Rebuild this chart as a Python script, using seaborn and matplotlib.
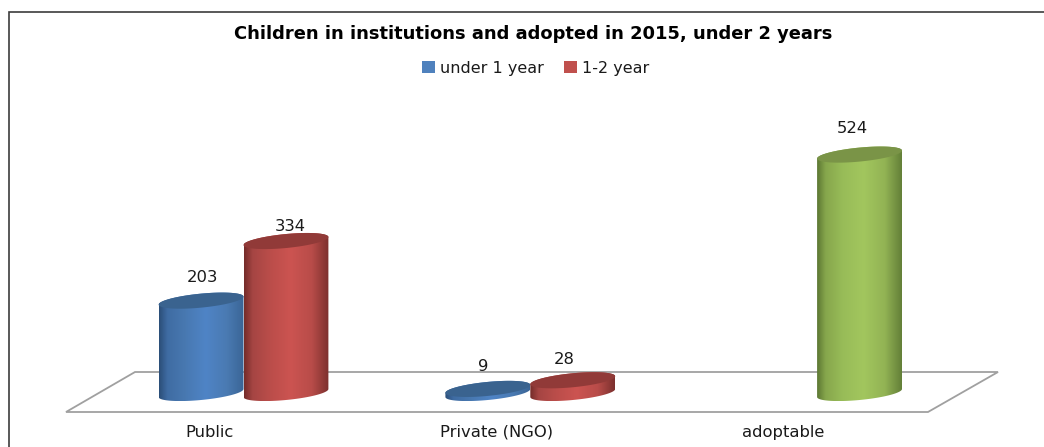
import numpy as np
import pandas as pd
import matplotlib
matplotlib.use("Agg")
import matplotlib.pyplot as plt
from matplotlib.colors import LinearSegmentedColormap
from matplotlib.lines import Line2D
from matplotlib.patches import PathPatch, Polygon
from matplotlib.path import Path
import seaborn as sns

# ---- data ----
categories = ["Public", "Private (NGO)", "adoptable"]
under_1_year = [203, 9, np.nan]
one_to_two_year = [334, 28, 524]
series_names = ["under 1 year", "1-2 year"]
title = "Children in institutions and adopted in 2015, under 2 years"

# ---- style ----
base_colors = ["#4F81BD", "#C0504D"]
# colour family index for (series, category); the adoptable bar is green
color_family = {"blue": 0, "red": 1, "green": 2}
top_colors = ["#3A638F", "#913A38", "#7A9447"]
body_stops = [
    ["#2B4E78", "#3F6CA3", "#4878B0", "#4F84C6", "#4A7AB2", "#3A6596"],
    ["#742C2A", "#A54543", "#BA4D4A", "#CC5451", "#B84C49", "#7C302E"],
    ["#5C7733", "#86A64C", "#98BC58", "#A2C65E", "#92B354", "#637F38"],
]
W, H = 1044, 447
AX_LEFT, AX_RIGHT, AX_BASE, AX_TOP = 0, 1044, 393, 120
CENTER_0_PX, UNIT_PX = 243.5, 286.8
YMAX = 600
label_offsets_px = [(1.5, 23), (-5, 22), (4.5, 15), (-8.5, 21), (-7, 26)]

sns.set_theme(style="white")
plt.rcParams["font.family"] = ["DejaVu Sans"]

df = pd.DataFrame({
    "category": np.tile(categories, 2),
    "series": np.repeat(series_names, 3),
    "value": under_1_year + one_to_two_year,
})

fig = plt.figure(figsize=(W / 100, H / 100), dpi=100, facecolor="white")


def fx(x):
    return x / W


def fy(y):
    return 1 - y / H


ax = fig.add_axes([fx(AX_LEFT), fy(AX_BASE), fx(AX_RIGHT - AX_LEFT), (AX_BASE - AX_TOP) / H])
ax.patch.set_alpha(0)
sns.barplot(data=df, x="category", y="value", hue="series",
            order=categories, hue_order=series_names, palette=base_colors,
            width=0.592, dodge=True, legend=False, ax=ax, linewidth=0, errorbar=None)

xlim = ((AX_LEFT - CENTER_0_PX) / UNIT_PX, (AX_RIGHT - CENTER_0_PX) / UNIT_PX)
ax.set_xlim(*xlim)
ax.set_ylim(0, YMAX)
ax.set_xlabel("")
ax.set_ylabel("")
ax.set_yticks([])
sns.despine(ax=ax, left=True, bottom=True)
ax.grid(False)

# category labels sit left of the group centre, as in the oblique projection
ax.set_xticks(np.arange(3) - 0.118, categories)
ax.tick_params(axis="x", length=0, pad=23, labelsize=11.8, colors="#1a1a1a")

sy = (AX_BASE - AX_TOP) / YMAX
B_PX, S_PX = 7.0, 4.0   # ellipse half-height and shear in pixels


def ellipse_xy(cx, y0, a, t):
    return (cx + a * np.cos(t),
            y0 + (B_PX * np.sin(t) + S_PX * np.cos(t)) / sy)


order = 0
for s_idx, container in enumerate(ax.containers):
    for c_idx, bar in enumerate(container):
        h = bar.get_height()
        if not np.isfinite(h) or h == 0:
            continue
        bar.set_visible(False)
        fam = color_family["green"] if bar.get_x() > 1.5 else s_idx
        cmap = LinearSegmentedColormap.from_list(
            f"cyl{fam}", list(zip([0, 0.1, 0.3, 0.55, 0.8, 1], body_stops[fam])))
        x0, w = bar.get_x(), bar.get_width()
        cx, a = x0 + w / 2, w / 2
        bx, by = ellipse_xy(cx, 0, a, np.linspace(np.pi, 2 * np.pi, 60))
        tx, ty = ellipse_xy(cx, h, a, np.linspace(0, np.pi, 60))
        verts = np.vstack([np.c_[bx, by], np.c_[tx, ty], [bx[0], by[0]]])
        codes = [Path.MOVETO] + [Path.LINETO] * (len(verts) - 2) + [Path.CLOSEPOLY]
        clip = PathPatch(Path(verts, codes), transform=ax.transData, fc="none", ec="none")
        clip.set_clip_on(False)
        ax.add_patch(clip)
        grad = np.linspace(0, 1, 256).reshape(1, -1)
        low = by.min()
        high = h + (B_PX + S_PX) / sy
        im = ax.imshow(grad, extent=[x0, x0 + w, low, high], aspect="auto",
                       cmap=cmap, zorder=3 + s_idx * 0.1, origin="lower")
        im.set_clip_path(clip)
        im.set_clip_box(fig.bbox)
        # top cap
        ex, ey = ellipse_xy(cx, h, a, np.linspace(0, 2 * np.pi, 120))
        ax.fill(ex, ey, color=top_colors[fam], lw=0, zorder=3.05 + s_idx * 0.1, clip_on=False)
        # value label
        dx, dy = label_offsets_px[order]
        ax.annotate(f"{int(h)}", (cx, h), xytext=(dx * 0.72, dy * 0.72),
                    textcoords="offset points", ha="center", va="center",
                    fontsize=11.8, color="#1a1a1a", zorder=6)
        order += 1

ax.set_xlim(*xlim)
ax.set_ylim(0, YMAX)

# floor of the 3-D chart
floor_px = [(66, 412), (135, 372), (998, 372), (928, 412)]
fig.add_artist(Polygon([(fx(x), fy(y)) for x, y in floor_px], closed=True,
                       transform=fig.transFigure, fc="none", ec="#A0A0A0", lw=1.3, zorder=0))

# outer frame: top and left only
fig.add_artist(Line2D([fx(8.5), fx(8.5), 1], [0, fy(12), fy(12)], transform=fig.transFigure,
                      color="#3c3c3c", lw=1.2, solid_joinstyle="miter"))

fig.text(fx(533), fy(34), title, ha="center", va="center", fontsize=12.9,
         fontweight="bold", color="black")

# legend
handles = [plt.Rectangle((0, 0), 1, 1, fc=c, ec="none") for c in base_colors]
fig.legend(handles, series_names, loc="center", bbox_to_anchor=(fx(536), fy(68)),
           ncol=2, frameon=False, fontsize=11.5, handlelength=0.78, handleheight=0.72,
           handletextpad=0.35, columnspacing=1.25, labelcolor="#1a1a1a")

fig.savefig("out.png", dpi=100, facecolor="white")
